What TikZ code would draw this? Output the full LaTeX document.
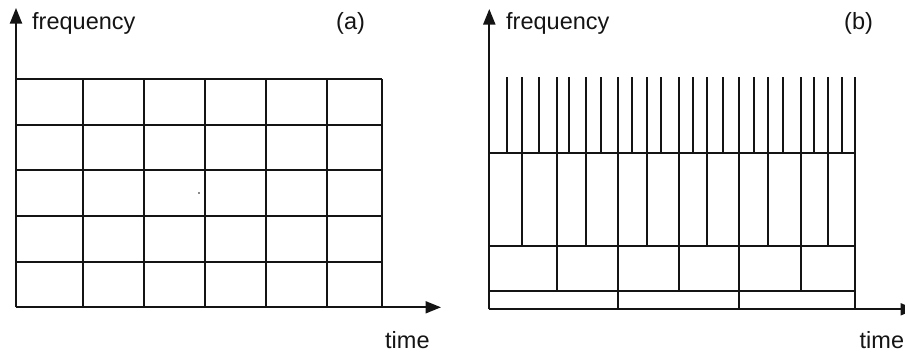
\documentclass[tikz,border=0pt]{standalone}
\usepackage{fontspec}
\setmainfont{Liberation Sans}
\usepackage{xcolor}
\usepackage{tikz}
\usetikzlibrary{arrows.meta}
\definecolor{ink}{HTML}{141414}
\tikzset{
  axis/.style={draw=ink, line width=1.9pt, -{Triangle[length=15.5pt,width=12pt]}},
  cell/.style={draw=ink, line width=1.9pt},
  labm/.style={text=ink, inner sep=0pt, anchor=base west, font=\fontsize{23.5}{28}\selectfont}
}
\begin{document}
\begin{tikzpicture}[x=1pt,y=-1pt]
  \useasboundingbox (0,0) rectangle (905,354);

  % (a) uniform time-frequency tiling
  \coordinate (Oa) at (16,307.3);
  \coordinate (Ya) at (16,8);
  \coordinate (Xa) at (441,307.3);
  \foreach \y in {79,124.7,170.3,216,261.7}
    \draw[cell] (16,\y) -- (381.7,\y);
  \foreach \x in {82.7,144,205,266,327.3,381.7}
    \draw[cell] (\x,79) -- (\x,307.3);
  \draw[axis] (Oa) -- (Ya);
  \draw[axis] (Oa) -- (Xa);
  \fill[ink] (199,193) circle (0.8pt);

  \node[labm] (fa) at (32,29.5) {frequency};
  \node[labm] (la) at (336,29.5) {(a)};
  \node[labm] (ta) at (385,348) {time};

  % (b) dyadic tiling
  \coordinate (Ob) at (489.3,309.3);
  \coordinate (Yb) at (489.3,9);
  \coordinate (Xb) at (916,309.3);
  \foreach \y in {290.7,245.7,153.3}
    \draw[cell] (489.3,\y) -- (855,\y);
  \foreach \x in {617.7,739.3,855}
    \draw[cell] (\x,309.3) -- (\x,76.7);
  \foreach \x in {557,679,801}
    \draw[cell] (\x,290.7) -- (\x,76.7);
  \foreach \x in {521.7,585.7,646.7,707.3,767.7,828.3}
    \draw[cell] (\x,245.7) -- (\x,76.7);
  \foreach \x in {507.3,538.7,569.3,600.7,631.7,660.7,692.7,722.7,754,783.3,814.3,841.7}
    \draw[cell] (\x,153.3) -- (\x,76.7);
  \draw[axis] (Ob) -- (Yb);
  \draw[axis] (Ob) -- (Xb);

  \node[labm] (fb) at (506,29.5) {frequency};
  \node[labm] (lb) at (844,29.5) {(b)};
  \node[labm] (tb) at (859.5,348) {time};
\end{tikzpicture}
\end{document}
